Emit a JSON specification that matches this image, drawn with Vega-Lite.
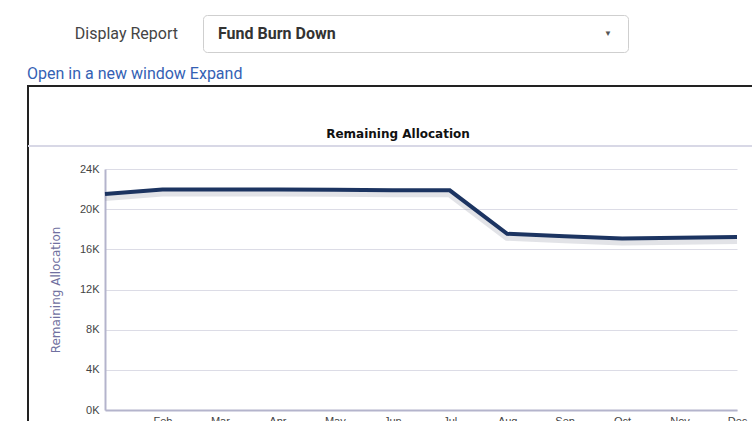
{
  "$schema": "https://vega.github.io/schema/vega-lite/v6.json",
  "background": "white",
  "padding": {"left": 26, "top": 14, "right": 0, "bottom": 0},
  "spacing": 12,
  "config": {"font": "Liberation Sans"},
  "vconcat": [
    {
      "spacing": 22,
      "hconcat": [
        {
          "width": 152,
          "height": 37,
          "view": {"stroke": null},
          "data": {"values": [{"caption": "Display Report"}]},
          "mark": {"type": "text", "align": "right", "baseline": "middle", "dx": -2, "font": "Roboto", "fontSize": 16, "color": "#444444"},
          "encoding": {"x": {"datum": 1, "type": "quantitative", "scale": {"domain": [0, 1]}, "axis": null}, "text": {"field": "caption"}}
        },
        {
          "width": 425,
          "height": 37,
          "view": {"stroke": "#cfcfcf", "strokeWidth": 1, "cornerRadius": 4, "fill": "white"},
          "data": {"values": [{"report": "Fund Burn Down", "arrow": "▼"}]},
          "layer": [
            {
              "mark": {"type": "text", "align": "left", "baseline": "middle", "dx": 15, "font": "Roboto", "fontSize": 16, "fontWeight": "bold", "color": "#333333"},
              "encoding": {"x": {"datum": 0, "type": "quantitative", "scale": {"domain": [0, 1]}, "axis": null}, "text": {"field": "report"}}
            },
            {
              "mark": {"type": "text", "align": "center", "baseline": "middle", "dx": -20, "fontSize": 8, "color": "#555555"},
              "encoding": {"x": {"datum": 1, "type": "quantitative", "scale": {"domain": [0, 1]}, "axis": null}, "text": {"field": "arrow"}}
            }
          ]
        }
      ]
    },
    {
      "width": 740,
      "height": 400,
      "view": {"stroke": "#222222", "strokeWidth": 2},
      "title": {"text": "Open in a new window Expand", "anchor": "start", "font": "Roboto", "fontSize": 16, "fontWeight": "normal", "color": "#3461b4", "offset": 4},
      "layer": [
        {
          "data": {"values": [{"label": "Remaining Allocation"}]},
          "mark": {"type": "rule", "color": "#d8d8e6", "strokeWidth": 2},
          "encoding": {"y": {"datum": 26290, "type": "quantitative"}}
        },
        {
          "data": {"values": [{"label": "Remaining Allocation"}]},
          "mark": {"type": "text", "baseline": "middle", "align": "center", "font": "DejaVu Sans", "fontSize": 12, "fontWeight": "bold", "color": "#111111"},
          "encoding": {"y": {"datum": 27485, "type": "quantitative"}, "text": {"field": "label"}}
        },
        {
          "data": {"values": [
            {"month": "Jan", "allocation": 21500},
            {"month": "Feb", "allocation": 21950},
            {"month": "Mar", "allocation": 21950},
            {"month": "Apr", "allocation": 21950},
            {"month": "May", "allocation": 21930},
            {"month": "Jun", "allocation": 21880},
            {"month": "Jul", "allocation": 21880},
            {"month": "Aug", "allocation": 17550},
            {"month": "Sep", "allocation": 17300},
            {"month": "Oct", "allocation": 17080},
            {"month": "Nov", "allocation": 17150},
            {"month": "Dec", "allocation": 17230}
          ]},
          "encoding": {
            "x": {
              "field": "month", "type": "ordinal", "sort": null,
              "scale": {"type": "point", "range": [77, 709], "padding": 0},
              "axis": {"title": null, "orient": "bottom", "offset": -76, "domainColor": "#b4b4cc", "domainWidth": 2, "ticks": false, "labelPadding": 5, "labelFontSize": 11, "labelColor": "#444444", "labelAngle": 0, "grid": false, "labelExpr": "datum.value == 'Jan' ? '' : datum.value"}
            },
            "y": {
              "field": "allocation", "type": "quantitative",
              "scale": {"domain": [0, 24000], "range": [324, 83], "nice": false},
              "axis": {"title": "Remaining Allocation", "offset": -77, "grid": true, "values": [0, 4000, 8000, 12000, 16000, 20000, 24000], "labelExpr": "(datum.value / 1000) + 'K'", "ticks": false, "domainColor": "#b4b4cc", "domainWidth": 2, "gridColor": "#dcdce6", "gridWidth": 1, "labelFontSize": 11, "labelColor": "#444444", "labelPadding": 6, "titleFont": "DejaVu Sans", "titleColor": "#7070a0", "titleFontSize": 12, "titleFontWeight": "normal", "titlePadding": 17}
            }
          },
          "layer": [
            {"mark": {"type": "line", "color": "#8a90a0", "strokeWidth": 8, "opacity": 0.25, "yOffset": 3}},
            {"mark": {"type": "line", "color": "#1c3461", "strokeWidth": 4}}
          ]
        }
      ]
    }
  ]
}
